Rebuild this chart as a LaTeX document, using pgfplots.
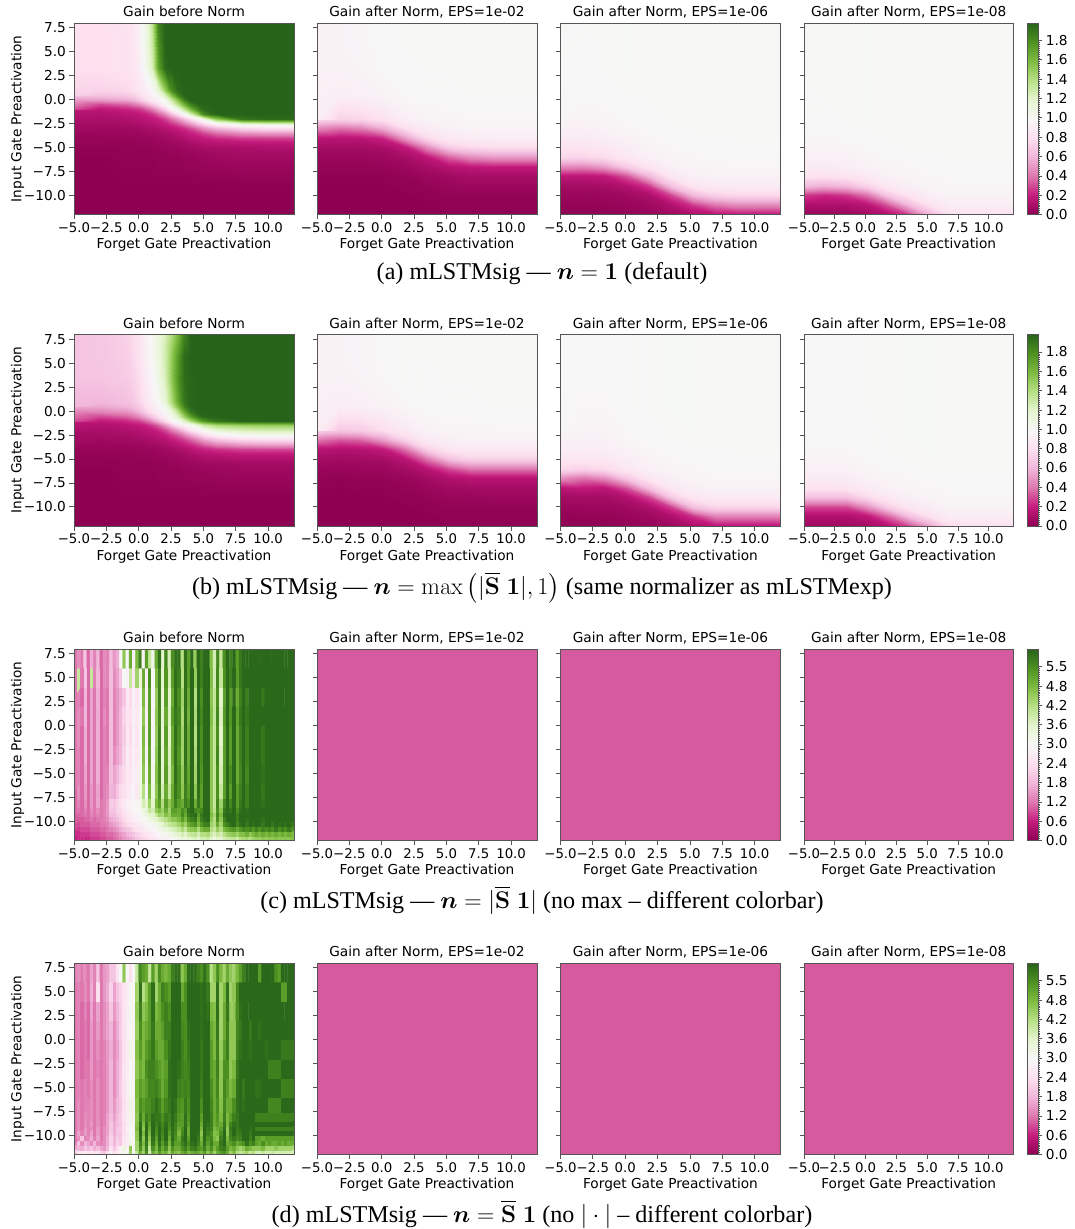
\RequirePackage{fix-cm}
\documentclass[border=0pt]{standalone}
\usepackage{amsmath}
\usepackage[no-math]{fontspec}
\usepackage{pgfplots}
\pgfplotsset{compat=1.18}
\setmainfont{Liberation Serif}
\newfontfamily\dv{DejaVu Sans}
\newcommand\tf{\dv\fontsize{13.7}{15}\selectfont}
\newcommand\tfx{\dv\fontsize{13.3}{15}\selectfont}
\definecolor{spine}{HTML}{555555}
\pgfplotsset{
 colormap={piyg}{rgb255=(142,1,82) rgb255=(197,27,125) rgb255=(222,119,174) rgb255=(241,182,218) rgb255=(253,224,239) rgb255=(247,247,247) rgb255=(230,245,208) rgb255=(184,225,134) rgb255=(127,188,65) rgb255=(77,146,33) rgb255=(39,100,25)},
 /pgf/declare function={
  xa(\i)=-5+2*min(\i,2)+.5*max(min(\i,14)-2,0)+max(min(\i,15)-14,0)+2*max(\i-15,0);
  ya(\j)=-12+3*min(\j,2)+.5*max(min(\j,16)-2,0)+2.33333*max(\j-16,0);
  yb(\j)=-12+min(\j,10)+2.5*max(\j-10,0);
  yc(\j)=-11.75+.5*min(\j,7)+1.25*max(min(\j,8)-7,0)+2*max(\j-8,0);
 },
 table/A/.style={row sep=\\,header=false,x expr={xa(mod(\coordindex,19))},y expr={ya(floor(\coordindex/19))},meta expr={\thisrowno{0}/100}},
 table/B/.style={row sep=\\,header=false,x expr={-5+1.7*mod(\coordindex,11)},y expr={yb(floor(\coordindex/11))},meta expr={\thisrowno{0}/100}},
 table/C/.style={row sep=\\,header=false,x expr={-4.875+.25*mod(\coordindex,68)},y expr={yc(floor(\coordindex/68))},meta expr={\thisrowno{0}/10}},
 pan/.style={anchor=south west,scale only axis,width=220pt,height=191.5pt,xmin=-5,xmax=12,ymin=-12,ymax=8,
  axis on top,axis line style={spine,line width=.9pt},tick style={spine,line width=.8pt},major tick length=4.5pt,tick align=outside,xtick pos=bottom,ytick pos=left,
  xtick={-5,-2.5,0,2.5,5,7.5,10},xticklabels={−5.0,−2.5,0.0,2.5,5.0,7.5,10.0},
  ytick={-10,-7.5,-5,-2.5,0,2.5,5,7.5},yticklabels={},
  y tick label style={font=\tf},x tick label style={font=\tfx},
  xlabel={Forget Gate Preactivation},xlabel style={font=\tf,yshift=1pt},
  title style={font=\tf,anchor=base,at={(0.5,1)},yshift=0.5pt},point meta=explicit},
 first/.style={ylabel={Input Gate Preactivation},ylabel style={font=\tf,yshift=-7pt},yticklabels={−10.0,−7.5,−5.0,−2.5,0.0,2.5,5.0,7.5},title={Gain before Norm}},
 lastp/.style={width=209.4pt,title={Gain after Norm, EPS=1e-08}},
 cmA/.style={point meta min=0,point meta max=1.98},
 cmC/.style={point meta min=0,point meta max=5.95},
 cbar/.style={colorbar,colorbar style={at={(parent axis.north east)},anchor=north west,xshift=5.4pt,scale only axis,width=11pt,
  axis line style={spine,line width=.8pt},ytick pos=right,yticklabel pos=right,tick style={spine,line width=.6pt},major tick length=4pt,minor tick length=1.6pt,tick align=outside,minor y tick num=9,y tick label style={font=\tf},#1}},
 cbA/.style={cbar={ytick={0,.2,.4,.6,.8,1,1.2,1.4,1.6,1.8},yticklabels={0.0,0.2,0.4,0.6,0.8,1.0,1.2,1.4,1.6,1.8}}},
 cbC/.style={cbar={ytick={0,.6,1.2,1.8,2.4,3,3.6,4.2,4.8,5.4},yticklabels={0.0,0.6,1.2,1.8,2.4,3.0,3.6,4.2,4.8,5.5}}},
 sm/.style={surf,shader=interp,mesh/cols=#1},
}
\newcommand\flatpink{\addplot[surf,shader=flat,mesh/cols=2] table[row sep=\\,meta=c]{x y c\\ -5 -12 1\\ 12 -12 1\\ -5 8 1\\ 12 8 1\\};}
\begin{document}
\begin{tikzpicture}
\useasboundingbox (0,0) rectangle (1075pt,-1229pt);
% ---------- row a
\begin{axis}[pan,first,cmA,at={(74pt,-214.5pt)}]
\addplot[sm=19] table[A]{
0\\0\\0\\0\\0\\0\\0\\0\\0\\0\\0\\0\\0\\0\\0\\0\\0\\0\\0\\
0\\0\\0\\0\\0\\0\\0\\0\\0\\0\\0\\0\\0\\0\\0\\0\\0\\0\\0\\
0\\0\\1\\1\\1\\1\\1\\2\\2\\2\\2\\3\\3\\4\\5\\6\\7\\7\\7\\
1\\1\\1\\1\\1\\1\\2\\2\\2\\3\\3\\4\\5\\6\\6\\8\\9\\9\\9\\
1\\1\\2\\2\\2\\2\\2\\3\\3\\4\\5\\6\\7\\8\\9\\10\\11\\12\\12\\
2\\2\\2\\2\\3\\3\\3\\4\\5\\6\\7\\8\\10\\12\\13\\15\\16\\17\\17\\
3\\3\\3\\3\\4\\4\\5\\6\\7\\8\\10\\12\\15\\17\\19\\23\\27\\28\\28\\
4\\4\\5\\5\\5\\6\\7\\8\\10\\12\\14\\17\\20\\24\\29\\38\\47\\50\\50\\
6\\6\\7\\7\\8\\9\\10\\12\\14\\17\\20\\24\\30\\38\\47\\60\\75\\80\\80\\
8\\8\\9\\10\\11\\12\\14\\16\\19\\24\\31\\39\\48\\60\\72\\92\\110\\115\\115\\
10\\10\\12\\13\\14\\16\\18\\21\\28\\37\\48\\62\\76\\92\\108\\150\\190\\195\\195\\
12\\12\\15\\16\\17\\20\\25\\34\\45\\62\\80\\100\\122\\150\\182\\198\\198\\198\\198\\
17\\17\\21\\23\\26\\32\\42\\55\\72\\95\\112\\135\\160\\182\\195\\198\\198\\198\\198\\
30\\30\\36\\40\\46\\55\\68\\80\\95\\115\\140\\165\\185\\196\\198\\198\\198\\198\\198\\
50\\50\\54\\58\\66\\76\\86\\94\\104\\130\\158\\185\\198\\198\\198\\198\\198\\198\\198\\
65\\65\\68\\71\\77\\85\\94\\105\\125\\155\\185\\197\\198\\198\\198\\198\\198\\198\\198\\
73\\73\\76\\78\\84\\90\\97\\115\\150\\180\\195\\198\\198\\198\\198\\198\\198\\198\\198\\
80\\80\\81\\83\\90\\103\\125\\170\\196\\198\\198\\198\\198\\198\\198\\198\\198\\198\\198\\
80\\80\\81\\83\\92\\106\\130\\178\\198\\198\\198\\198\\198\\198\\198\\198\\198\\198\\198\\
80\\80\\82\\84\\93\\108\\135\\185\\198\\198\\198\\198\\198\\198\\198\\198\\198\\198\\198\\
};
\end{axis}
\begin{axis}[pan,cmA,at={(317pt,-214.5pt)},title={Gain after Norm, EPS=1e-02}]
\addplot[sm=11] table[B]{
0\\0\\0\\0\\0\\0\\0\\0\\0\\0\\0\\
0\\0\\0\\0\\0\\0\\1\\1\\1\\1\\1\\
0\\0\\0\\0\\0\\1\\2\\2\\2\\2\\2\\
0\\0\\0\\0\\1\\2\\4\\5\\5\\5\\5\\
1\\1\\1\\1\\2\\5\\7\\9\\9\\9\\9\\
2\\2\\2\\3\\5\\9\\14\\17\\18\\18\\18\\
4\\4\\4\\6\\9\\17\\35\\46\\50\\50\\50\\
8\\8\\8\\10\\18\\46\\70\\76\\78\\78\\78\\
16\\15\\16\\22\\50\\76\\86\\89\\90\\90\\90\\
45\\39\\43\\57\\78\\89\\93\\95\\95\\95\\95\\
75\\72\\74\\81\\90\\95\\96\\97\\97\\97\\97\\
91\\91\\92\\95\\98\\99\\99\\100\\100\\100\\100\\
94\\94\\95\\98\\99\\100\\100\\100\\100\\100\\100\\
95\\95\\96\\99\\100\\100\\100\\100\\100\\100\\100\\
95\\95\\97\\99\\100\\100\\100\\100\\100\\100\\100\\
};
\end{axis}
\begin{axis}[pan,cmA,at={(560.5pt,-214.5pt)},title={Gain after Norm, EPS=1e-06}]
\addplot[sm=11] table[B]{
1\\1\\1\\2\\3\\7\\11\\15\\16\\16\\16\\
2\\2\\2\\4\\6\\12\\26\\39\\45\\45\\45\\
4\\4\\5\\7\\11\\29\\61\\72\\75\\75\\75\\
8\\8\\9\\13\\26\\64\\82\\87\\88\\88\\88\\
16\\16\\18\\32\\61\\84\\92\\94\\94\\94\\94\\
44\\43\\50\\68\\82\\92\\95\\96\\97\\97\\97\\
75\\74\\78\\85\\92\\96\\97\\98\\98\\98\\98\\
82\\83\\85\\90\\95\\97\\98\\99\\99\\99\\99\\
88\\88\\90\\94\\97\\98\\99\\99\\100\\100\\100\\
92\\92\\94\\97\\98\\99\\100\\100\\100\\100\\100\\
95\\95\\96\\98\\99\\100\\100\\100\\100\\100\\100\\
98\\98\\99\\100\\100\\100\\100\\100\\100\\100\\100\\
99\\99\\100\\101\\100\\100\\100\\100\\100\\100\\100\\
99\\99\\100\\101\\100\\100\\100\\100\\100\\100\\100\\
100\\100\\100\\101\\100\\100\\100\\100\\100\\100\\100\\
};
\end{axis}
\begin{axis}[pan,lastp,cmA,cbA,at={(804pt,-214.5pt)}]
\addplot[sm=11] table[B]{
5\\4\\4\\8\\13\\26\\57\\80\\80\\80\\80\\
11\\11\\11\\15\\32\\61\\81\\90\\90\\90\\90\\
26\\22\\26\\39\\68\\82\\91\\95\\95\\95\\95\\
61\\57\\61\\72\\85\\92\\96\\97\\97\\97\\97\\
82\\81\\82\\87\\93\\96\\97\\98\\98\\98\\98\\
88\\88\\90\\93\\96\\97\\98\\99\\99\\99\\99\\
92\\92\\93\\96\\98\\98\\99\\100\\100\\100\\100\\
95\\95\\96\\98\\99\\100\\100\\100\\100\\100\\100\\
97\\97\\98\\99\\100\\100\\100\\100\\100\\100\\100\\
98\\98\\99\\100\\100\\100\\100\\100\\100\\100\\100\\
99\\99\\100\\101\\100\\100\\100\\100\\100\\100\\100\\
99\\100\\100\\101\\100\\100\\100\\100\\100\\100\\100\\
100\\100\\100\\101\\100\\100\\100\\100\\100\\100\\100\\
100\\100\\100\\101\\100\\100\\100\\100\\100\\100\\100\\
100\\100\\100\\101\\100\\100\\100\\100\\100\\100\\100\\
};
\end{axis}
\node[anchor=base,font=\fontsize{24.1}{26}\selectfont] at (542pt,-279pt) {(a) mLSTMsig --- $\boldsymbol{n}=\boldsymbol{1}$ (default)};
% ---------- row b
\begin{axis}[pan,first,cmA,at={(74pt,-526pt)}]
\addplot[sm=19] table[A]{
0\\0\\0\\0\\0\\0\\0\\0\\0\\0\\0\\0\\0\\0\\0\\0\\0\\0\\0\\
0\\0\\0\\0\\0\\0\\0\\0\\0\\0\\0\\0\\0\\0\\0\\0\\0\\0\\0\\
0\\0\\1\\1\\1\\1\\1\\2\\2\\2\\2\\3\\3\\4\\4\\5\\6\\6\\6\\
1\\1\\1\\1\\1\\1\\2\\2\\2\\3\\3\\4\\5\\5\\6\\7\\8\\8\\8\\
1\\1\\2\\2\\2\\2\\2\\3\\3\\4\\5\\6\\7\\8\\9\\10\\12\\12\\12\\
2\\2\\2\\2\\3\\3\\3\\4\\5\\6\\7\\8\\10\\12\\14\\16\\18\\18\\18\\
3\\3\\3\\3\\4\\4\\5\\6\\7\\8\\10\\12\\15\\18\\21\\25\\29\\30\\30\\
4\\4\\5\\5\\5\\6\\7\\8\\10\\12\\15\\18\\22\\27\\32\\41\\48\\50\\50\\
6\\6\\7\\7\\8\\9\\10\\12\\14\\18\\22\\27\\33\\42\\50\\62\\73\\76\\76\\
8\\8\\9\\10\\11\\12\\14\\17\\20\\26\\33\\42\\52\\63\\76\\90\\101\\104\\104\\
10\\10\\12\\13\\14\\16\\18\\22\\30\\40\\52\\66\\80\\90\\102\\117\\125\\128\\128\\
12\\12\\15\\16\\18\\21\\27\\35\\48\\64\\82\\94\\102\\115\\130\\142\\148\\150\\150\\
18\\18\\22\\25\\28\\35\\46\\60\\76\\94\\104\\120\\140\\160\\175\\190\\197\\198\\198\\
30\\30\\36\\40\\47\\56\\68\\80\\92\\104\\125\\150\\172\\190\\197\\198\\198\\198\\198\\
45\\45\\50\\54\\62\\72\\82\\90\\100\\115\\140\\170\\190\\198\\198\\198\\198\\198\\198\\
55\\55\\60\\63\\70\\78\\88\\96\\107\\130\\160\\185\\196\\198\\198\\198\\198\\198\\198\\
60\\60\\64\\67\\74\\82\\92\\100\\115\\140\\170\\190\\197\\198\\198\\198\\198\\198\\198\\
66\\66\\69\\72\\78\\87\\97\\108\\125\\150\\178\\194\\197\\198\\198\\198\\198\\198\\198\\
66\\67\\71\\75\\81\\91\\101\\112\\128\\150\\175\\195\\198\\198\\198\\198\\198\\198\\198\\
66\\67\\72\\76\\82\\92\\102\\112\\125\\140\\162\\185\\198\\198\\198\\198\\198\\198\\198\\
};
\end{axis}
\begin{axis}[pan,cmA,at={(317pt,-526pt)},title={Gain after Norm, EPS=1e-02}]
\addplot[sm=11] table[B]{
0\\0\\0\\0\\0\\0\\0\\0\\0\\0\\0\\
0\\0\\0\\0\\0\\0\\1\\1\\1\\1\\1\\
0\\0\\0\\0\\0\\1\\2\\2\\2\\2\\2\\
0\\0\\0\\0\\1\\2\\4\\4\\5\\5\\5\\
1\\0\\1\\1\\2\\4\\7\\8\\8\\8\\8\\
2\\1\\2\\2\\4\\8\\12\\15\\15\\15\\15\\
4\\4\\4\\5\\8\\15\\29\\39\\39\\39\\39\\
8\\7\\8\\9\\15\\39\\64\\72\\72\\72\\72\\
15\\13\\14\\18\\39\\72\\84\\87\\87\\87\\87\\
39\\32\\35\\50\\72\\87\\92\\94\\94\\94\\94\\
72\\68\\70\\78\\87\\94\\96\\96\\97\\97\\97\\
90\\90\\91\\94\\97\\99\\99\\99\\100\\100\\100\\
94\\94\\95\\97\\100\\99\\100\\100\\100\\100\\100\\
95\\95\\96\\98\\100\\100\\100\\100\\100\\100\\100\\
95\\95\\96\\98\\101\\100\\100\\100\\100\\100\\100\\
};
\end{axis}
\begin{axis}[pan,cmA,at={(560.5pt,-526pt)},title={Gain after Norm, EPS=1e-06}]
\addplot[sm=11] table[B]{
1\\1\\1\\2\\3\\6\\11\\16\\16\\16\\16\\
2\\2\\2\\4\\6\\12\\25\\43\\43\\43\\43\\
4\\5\\5\\7\\11\\27\\64\\74\\74\\74\\74\\
8\\8\\8\\13\\29\\68\\84\\88\\88\\88\\88\\
16\\18\\16\\32\\64\\85\\92\\94\\94\\94\\94\\
46\\39\\46\\68\\84\\92\\96\\97\\97\\97\\97\\
76\\72\\76\\85\\92\\96\\97\\98\\98\\98\\98\\
84\\84\\85\\90\\95\\97\\98\\99\\99\\99\\99\\
90\\90\\90\\94\\97\\98\\99\\99\\100\\100\\100\\
94\\93\\93\\97\\98\\100\\100\\100\\100\\100\\100\\
96\\95\\95\\98\\99\\100\\101\\100\\100\\100\\100\\
98\\97\\97\\99\\100\\101\\101\\100\\100\\100\\100\\
99\\98\\98\\99\\100\\101\\101\\100\\100\\100\\100\\
99\\98\\98\\99\\100\\101\\101\\100\\100\\100\\100\\
99\\98\\98\\99\\100\\101\\101\\100\\100\\100\\100\\
};
\end{axis}
\begin{axis}[pan,lastp,cmA,cbA,at={(804pt,-526pt)}]
\addplot[sm=11] table[B]{
7\\7\\7\\9\\14\\29\\53\\78\\80\\80\\80\\
12\\12\\12\\17\\36\\64\\80\\90\\90\\90\\90\\
29\\29\\29\\46\\70\\84\\90\\95\\95\\95\\95\\
64\\64\\64\\76\\86\\92\\95\\97\\97\\97\\97\\
82\\82\\82\\88\\93\\96\\97\\98\\98\\98\\98\\
88\\88\\89\\93\\96\\97\\98\\99\\99\\99\\99\\
92\\92\\93\\96\\98\\99\\100\\100\\100\\100\\100\\
95\\95\\96\\98\\99\\100\\101\\100\\100\\100\\100\\
97\\97\\97\\99\\100\\100\\101\\100\\100\\100\\100\\
98\\98\\98\\99\\100\\101\\101\\100\\100\\100\\100\\
99\\98\\98\\99\\100\\101\\101\\100\\100\\100\\100\\
99\\98\\98\\100\\100\\101\\101\\100\\100\\100\\100\\
99\\98\\98\\100\\100\\101\\101\\100\\100\\100\\100\\
99\\98\\98\\100\\100\\101\\101\\100\\100\\100\\100\\
99\\98\\98\\100\\100\\101\\101\\100\\100\\100\\100\\
};
\end{axis}
\node[anchor=base,font=\fontsize{24.1}{26}\selectfont] at (542pt,-594pt) {(b) mLSTMsig --- $\boldsymbol{n}=\max\left(|\overline{\mathbf{S}}\;\boldsymbol{1}|,1\right)$ (same normalizer as mLSTMexp)};
% ---------- row c
\begin{axis}[pan,first,cmC,at={(74pt,-840.5pt)}]
\addplot[matrix plot*,mesh/cols=68] table[C]{
6\\7\\7\\7\\7\\8\\8\\8\\9\\9\\10\\10\\11\\12\\13\\15\\16\\17\\18\\20\\21\\22\\23\\24\\25\\26\\27\\28\\28\\29\\30\\31\\32\\34\\33\\35\\36\\37\\35\\38\\38\\39\\36\\34\\36\\35\\38\\39\\40\\41\\39\\42\\43\\44\\42\\44\\45\\45\\46\\45\\46\\46\\47\\46\\46\\47\\46\\47\\
7\\7\\8\\8\\8\\9\\9\\9\\10\\10\\11\\11\\12\\13\\15\\16\\18\\19\\20\\22\\23\\24\\25\\26\\27\\28\\30\\31\\31\\32\\33\\35\\36\\38\\36\\39\\40\\41\\38\\42\\42\\43\\39\\37\\40\\38\\42\\44\\45\\46\\44\\47\\47\\49\\46\\48\\50\\48\\50\\48\\50\\48\\50\\48\\50\\48\\50\\48\\
8\\8\\9\\9\\9\\10\\10\\10\\11\\11\\12\\13\\14\\15\\17\\19\\20\\21\\23\\24\\25\\26\\27\\28\\29\\30\\32\\33\\34\\36\\37\\38\\40\\43\\40\\45\\46\\47\\43\\48\\50\\50\\42\\40\\45\\42\\48\\50\\52\\53\\50\\53\\55\\54\\55\\53\\56\\53\\56\\54\\56\\54\\57\\54\\56\\54\\57\\54\\
9\\9\\10\\10\\10\\11\\11\\11\\12\\12\\13\\15\\16\\17\\19\\21\\23\\24\\25\\26\\27\\28\\29\\30\\31\\32\\34\\36\\38\\40\\41\\42\\44\\47\\44\\50\\52\\54\\48\\53\\56\\56\\44\\42\\50\\44\\54\\56\\58\\59\\55\\58\\59\\57\\59\\58\\59\\59\\57\\59\\59\\57\\59\\58\\59\\58\\59\\57\\
10\\10\\10\\11\\11\\12\\11\\12\\12\\13\\14\\17\\18\\19\\21\\23\\25\\26\\27\\28\\29\\30\\31\\33\\34\\36\\38\\40\\42\\44\\46\\46\\48\\52\\48\\54\\56\\57\\50\\56\\58\\59\\46\\42\\54\\46\\56\\59\\59\\59\\56\\59\\59\\58\\59\\59\\59\\59\\58\\59\\59\\59\\59\\59\\59\\59\\59\\59\\
10\\11\\11\\12\\11\\13\\12\\13\\12\\13\\15\\19\\19\\21\\22\\24\\26\\27\\28\\29\\30\\32\\33\\36\\36\\40\\44\\43\\47\\45\\50\\50\\50\\55\\50\\57\\58\\59\\52\\57\\59\\59\\48\\43\\55\\48\\58\\59\\59\\59\\56\\59\\59\\59\\59\\59\\59\\59\\59\\59\\59\\59\\59\\59\\59\\59\\59\\59\\
11\\12\\11\\13\\11\\14\\12\\14\\12\\13\\15\\20\\20\\22\\23\\25\\27\\28\\29\\30\\31\\34\\35\\40\\38\\45\\48\\44\\50\\44\\52\\52\\50\\54\\52\\58\\59\\55\\54\\55\\59\\59\\46\\41\\54\\46\\57\\59\\57\\59\\54\\58\\59\\58\\59\\59\\59\\59\\59\\59\\59\\59\\59\\59\\59\\59\\59\\59\\
11\\13\\11\\14\\11\\15\\12\\16\\12\\13\\15\\21\\20\\22\\24\\26\\28\\28\\30\\29\\32\\38\\36\\44\\36\\48\\52\\42\\52\\46\\50\\56\\52\\50\\56\\54\\59\\50\\57\\52\\59\\59\\46\\40\\55\\44\\55\\59\\55\\59\\52\\57\\59\\56\\59\\59\\59\\59\\58\\59\\59\\59\\59\\59\\59\\59\\59\\59\\
11\\14\\11\\15\\11\\15\\12\\16\\11\\13\\14\\18\\17\\20\\23\\24\\26\\27\\29\\26\\34\\42\\30\\48\\34\\46\\54\\38\\50\\40\\50\\57\\54\\46\\56\\52\\59\\46\\58\\52\\59\\59\\46\\40\\54\\40\\52\\59\\52\\59\\52\\56\\59\\56\\59\\59\\59\\59\\57\\59\\59\\59\\59\\59\\59\\59\\59\\59\\
12\\13\\11\\16\\11\\16\\12\\17\\11\\13\\13\\19\\16\\18\\21\\23\\26\\25\\28\\27\\32\\46\\30\\50\\32\\47\\55\\36\\52\\38\\48\\58\\54\\45\\57\\51\\59\\44\\59\\53\\59\\59\\46\\40\\54\\38\\52\\59\\54\\59\\50\\55\\59\\55\\59\\59\\59\\59\\58\\59\\59\\59\\59\\59\\59\\59\\59\\59\\
12\\13\\11\\17\\11\\16\\12\\17\\11\\13\\12\\19\\14\\16\\18\\22\\27\\24\\28\\26\\31\\47\\29\\51\\31\\46\\56\\35\\51\\37\\50\\58\\53\\44\\58\\50\\59\\43\\59\\54\\59\\59\\46\\40\\55\\37\\52\\59\\52\\59\\50\\56\\59\\56\\59\\59\\59\\59\\57\\59\\59\\59\\59\\59\\59\\59\\59\\59\\
12\\14\\11\\17\\11\\16\\12\\17\\11\\13\\12\\19\\13\\15\\18\\21\\26\\23\\28\\25\\30\\48\\28\\52\\30\\45\\56\\34\\52\\36\\50\\58\\54\\44\\58\\50\\59\\42\\59\\54\\59\\59\\46\\40\\54\\36\\52\\59\\52\\59\\50\\56\\59\\56\\59\\59\\59\\59\\57\\59\\59\\59\\59\\59\\59\\59\\59\\59\\
12\\14\\12\\18\\11\\16\\12\\17\\11\\14\\12\\19\\13\\15\\18\\22\\25\\24\\28\\26\\30\\46\\28\\52\\29\\46\\55\\35\\50\\37\\52\\57\\55\\43\\58\\49\\59\\43\\59\\55\\59\\59\\47\\40\\55\\37\\53\\59\\53\\59\\51\\57\\59\\57\\59\\59\\59\\59\\59\\59\\59\\59\\59\\59\\59\\59\\59\\59\\
12\\13\\11\\18\\11\\16\\12\\17\\11\\13\\12\\19\\13\\15\\17\\20\\26\\23\\28\\25\\30\\48\\28\\52\\30\\45\\56\\34\\52\\36\\50\\58\\54\\44\\58\\50\\59\\42\\59\\54\\59\\59\\46\\40\\54\\36\\52\\59\\52\\59\\50\\56\\59\\56\\59\\59\\59\\59\\57\\59\\59\\59\\59\\59\\59\\59\\59\\59\\
12\\40\\12\\20\\11\\40\\13\\18\\11\\14\\13\\19\\14\\16\\20\\30\\28\\40\\26\\44\\34\\50\\28\\54\\30\\48\\56\\36\\53\\38\\52\\58\\56\\42\\58\\52\\59\\45\\59\\56\\59\\59\\47\\38\\55\\40\\54\\59\\56\\59\\52\\57\\59\\59\\59\\59\\59\\59\\59\\59\\59\\59\\59\\59\\59\\59\\59\\59\\
12\\14\\12\\20\\11\\17\\13\\18\\11\\14\\13\\19\\15\\17\\30\\46\\30\\50\\28\\48\\56\\28\\52\\40\\32\\50\\58\\36\\55\\38\\54\\58\\58\\42\\58\\52\\59\\45\\59\\56\\59\\59\\47\\38\\55\\40\\54\\59\\56\\59\\52\\57\\59\\59\\59\\59\\59\\59\\59\\59\\59\\59\\59\\59\\59\\59\\59\\59\\
};
\end{axis}
\begin{axis}[pan,cmC,at={(317pt,-840.5pt)},title={Gain after Norm, EPS=1e-02}]
\flatpink
\end{axis}
\begin{axis}[pan,cmC,at={(560.5pt,-840.5pt)},title={Gain after Norm, EPS=1e-06}]
\flatpink
\end{axis}
\begin{axis}[pan,lastp,cmC,cbC,at={(804pt,-840.5pt)}]
\flatpink
\end{axis}
\node[anchor=base,font=\fontsize{24.1}{26}\selectfont] at (542pt,-908pt) {(c) mLSTMsig --- $\boldsymbol{n}=|\overline{\mathbf{S}}\;\boldsymbol{1}|$ (no max -- different colorbar)};
% ---------- row d
\begin{axis}[pan,first,cmC,at={(74pt,-1154.5pt)}]
\addplot[matrix plot*,mesh/cols=68] table[C]{
22\\26\\24\\28\\25\\27\\24\\26\\22\\20\\24\\28\\24\\26\\30\\32\\30\\44\\32\\40\\50\\44\\54\\38\\50\\46\\52\\48\\50\\44\\50\\48\\46\\50\\52\\48\\50\\52\\50\\48\\52\\46\\50\\44\\50\\52\\54\\50\\44\\48\\42\\40\\42\\44\\40\\42\\38\\38\\40\\38\\38\\40\\38\\38\\38\\38\\38\\38\\
16\\18\\17\\20\\18\\20\\17\\19\\16\\15\\18\\24\\20\\24\\28\\34\\28\\46\\30\\44\\54\\46\\56\\40\\54\\48\\56\\50\\54\\46\\54\\50\\50\\54\\56\\52\\56\\57\\54\\52\\56\\50\\54\\48\\52\\56\\57\\52\\48\\50\\46\\44\\46\\50\\48\\46\\46\\46\\48\\44\\44\\44\\46\\44\\44\\44\\44\\44\\
13\\20\\14\\18\\16\\14\\18\\14\\13\\14\\17\\22\\18\\22\\20\\26\\27\\32\\29\\44\\56\\48\\57\\44\\57\\50\\58\\52\\57\\48\\57\\52\\52\\56\\58\\54\\58\\59\\56\\50\\58\\52\\56\\50\\50\\57\\59\\50\\52\\54\\50\\52\\54\\58\\54\\56\\52\\50\\54\\50\\52\\50\\50\\52\\50\\52\\50\\50\\
12\\14\\20\\13\\14\\17\\13\\16\\12\\14\\17\\22\\18\\21\\20\\25\\27\\31\\29\\46\\58\\46\\58\\46\\58\\52\\59\\54\\59\\50\\58\\54\\50\\57\\59\\52\\59\\59\\57\\48\\59\\54\\55\\48\\46\\56\\59\\48\\55\\57\\55\\56\\59\\59\\56\\59\\52\\52\\50\\52\\52\\52\\52\\52\\52\\52\\52\\52\\
12\\16\\13\\15\\13\\16\\12\\15\\12\\14\\16\\21\\17\\20\\20\\24\\27\\31\\28\\46\\59\\48\\59\\48\\59\\54\\59\\55\\59\\52\\58\\55\\48\\55\\59\\50\\59\\59\\58\\46\\59\\56\\54\\47\\48\\54\\59\\46\\56\\59\\56\\57\\59\\59\\57\\59\\59\\59\\59\\59\\59\\59\\59\\59\\59\\59\\59\\59\\
12\\14\\12\\15\\13\\14\\12\\15\\12\\14\\16\\20\\17\\20\\21\\24\\28\\30\\29\\48\\59\\46\\59\\50\\59\\55\\59\\56\\59\\54\\58\\56\\50\\54\\59\\50\\59\\59\\59\\48\\59\\57\\56\\48\\50\\52\\58\\46\\57\\59\\57\\58\\59\\59\\58\\59\\56\\56\\56\\56\\56\\56\\56\\56\\56\\56\\56\\56\\
12\\14\\12\\14\\13\\15\\12\\14\\12\\13\\16\\20\\17\\19\\20\\24\\27\\31\\29\\47\\58\\48\\58\\52\\59\\56\\58\\55\\58\\55\\59\\56\\52\\52\\58\\52\\59\\59\\59\\50\\59\\58\\56\\50\\52\\50\\57\\48\\55\\58\\57\\59\\59\\59\\59\\59\\59\\59\\59\\59\\59\\59\\59\\59\\59\\59\\59\\59\\
12\\14\\12\\14\\13\\14\\12\\14\\12\\13\\16\\19\\16\\19\\21\\25\\27\\32\\28\\46\\56\\50\\56\\54\\58\\57\\57\\54\\57\\56\\59\\57\\53\\52\\58\\53\\59\\59\\59\\52\\59\\59\\56\\50\\53\\48\\56\\48\\52\\56\\57\\59\\59\\59\\59\\59\\56\\56\\56\\56\\56\\56\\56\\56\\56\\56\\56\\56\\
12\\14\\12\\13\\13\\14\\12\\14\\12\\13\\15\\18\\15\\18\\20\\24\\27\\33\\28\\47\\54\\52\\54\\54\\56\\58\\56\\52\\55\\57\\59\\58\\54\\53\\57\\54\\59\\59\\59\\54\\59\\59\\55\\50\\54\\47\\55\\50\\50\\54\\58\\59\\58\\59\\59\\59\\59\\59\\59\\59\\55\\55\\55\\55\\59\\59\\59\\59\\
12\\13\\12\\13\\12\\14\\12\\14\\12\\13\\15\\18\\14\\17\\21\\24\\28\\31\\29\\48\\52\\50\\52\\55\\55\\56\\54\\50\\53\\58\\59\\59\\56\\55\\56\\55\\59\\59\\59\\56\\59\\59\\54\\50\\55\\46\\55\\52\\48\\50\\58\\59\\57\\59\\59\\59\\58\\58\\59\\59\\59\\59\\59\\59\\56\\56\\56\\56\\
12\\13\\11\\12\\12\\15\\12\\13\\12\\13\\15\\18\\14\\17\\20\\25\\27\\30\\28\\46\\50\\48\\54\\56\\56\\54\\52\\50\\52\\58\\59\\59\\58\\56\\55\\56\\59\\59\\59\\57\\59\\59\\52\\50\\56\\46\\54\\54\\46\\48\\57\\59\\59\\59\\59\\59\\59\\59\\59\\59\\56\\56\\56\\56\\59\\59\\59\\59\\
12\\13\\11\\12\\11\\15\\12\\14\\12\\13\\15\\17\\14\\16\\20\\24\\27\\32\\29\\47\\52\\48\\52\\54\\57\\52\\50\\50\\54\\57\\59\\59\\59\\56\\54\\57\\59\\59\\59\\57\\59\\59\\52\\48\\56\\45\\52\\56\\46\\46\\56\\58\\59\\59\\58\\59\\59\\59\\59\\58\\59\\59\\59\\59\\57\\57\\57\\57\\
12\\13\\11\\12\\11\\15\\12\\15\\12\\14\\16\\18\\14\\17\\21\\24\\28\\30\\28\\45\\54\\48\\50\\52\\57\\50\\50\\52\\56\\56\\59\\59\\59\\55\\54\\58\\59\\59\\59\\58\\59\\59\\50\\48\\57\\44\\50\\56\\46\\46\\55\\57\\59\\59\\57\\59\\59\\58\\59\\59\\59\\59\\59\\59\\59\\59\\59\\59\\
12\\13\\11\\13\\11\\16\\12\\16\\12\\14\\16\\20\\15\\18\\21\\25\\27\\31\\29\\46\\56\\46\\48\\52\\58\\48\\50\\54\\56\\54\\59\\59\\59\\54\\54\\59\\59\\59\\59\\58\\59\\58\\48\\47\\58\\44\\50\\57\\45\\46\\54\\58\\59\\59\\59\\59\\59\\59\\59\\59\\59\\59\\59\\59\\59\\59\\59\\59\\
12\\13\\12\\14\\12\\17\\13\\24\\12\\15\\17\\22\\16\\20\\22\\25\\27\\30\\30\\44\\58\\42\\46\\52\\58\\44\\50\\56\\54\\52\\59\\59\\59\\50\\54\\59\\59\\59\\59\\58\\59\\57\\44\\44\\58\\44\\48\\58\\44\\46\\55\\59\\59\\59\\59\\59\\59\\59\\59\\59\\59\\59\\59\\59\\52\\52\\59\\59\\
13\\14\\12\\14\\12\\16\\13\\20\\12\\15\\16\\20\\20\\25\\30\\46\\30\\24\\30\\40\\55\\52\\50\\40\\52\\44\\54\\50\\48\\50\\56\\58\\58\\46\\50\\58\\59\\58\\56\\54\\58\\54\\42\\46\\54\\48\\44\\50\\46\\44\\48\\52\\56\\59\\59\\59\\59\\52\\59\\59\\59\\59\\54\\52\\59\\59\\59\\59\\
};
\end{axis}
\begin{axis}[pan,cmC,at={(317pt,-1154.5pt)},title={Gain after Norm, EPS=1e-02}]
\flatpink
\end{axis}
\begin{axis}[pan,cmC,at={(560.5pt,-1154.5pt)},title={Gain after Norm, EPS=1e-06}]
\flatpink
\end{axis}
\begin{axis}[pan,lastp,cmC,cbC,at={(804pt,-1154.5pt)}]
\flatpink
\end{axis}
\node[anchor=base,font=\fontsize{24.1}{26}\selectfont] at (542pt,-1222pt) {(d) mLSTMsig --- $\boldsymbol{n}=\overline{\mathbf{S}}\;\boldsymbol{1}$ (no $|\cdot|$ -- different colorbar)};
\end{tikzpicture}
\end{document}
